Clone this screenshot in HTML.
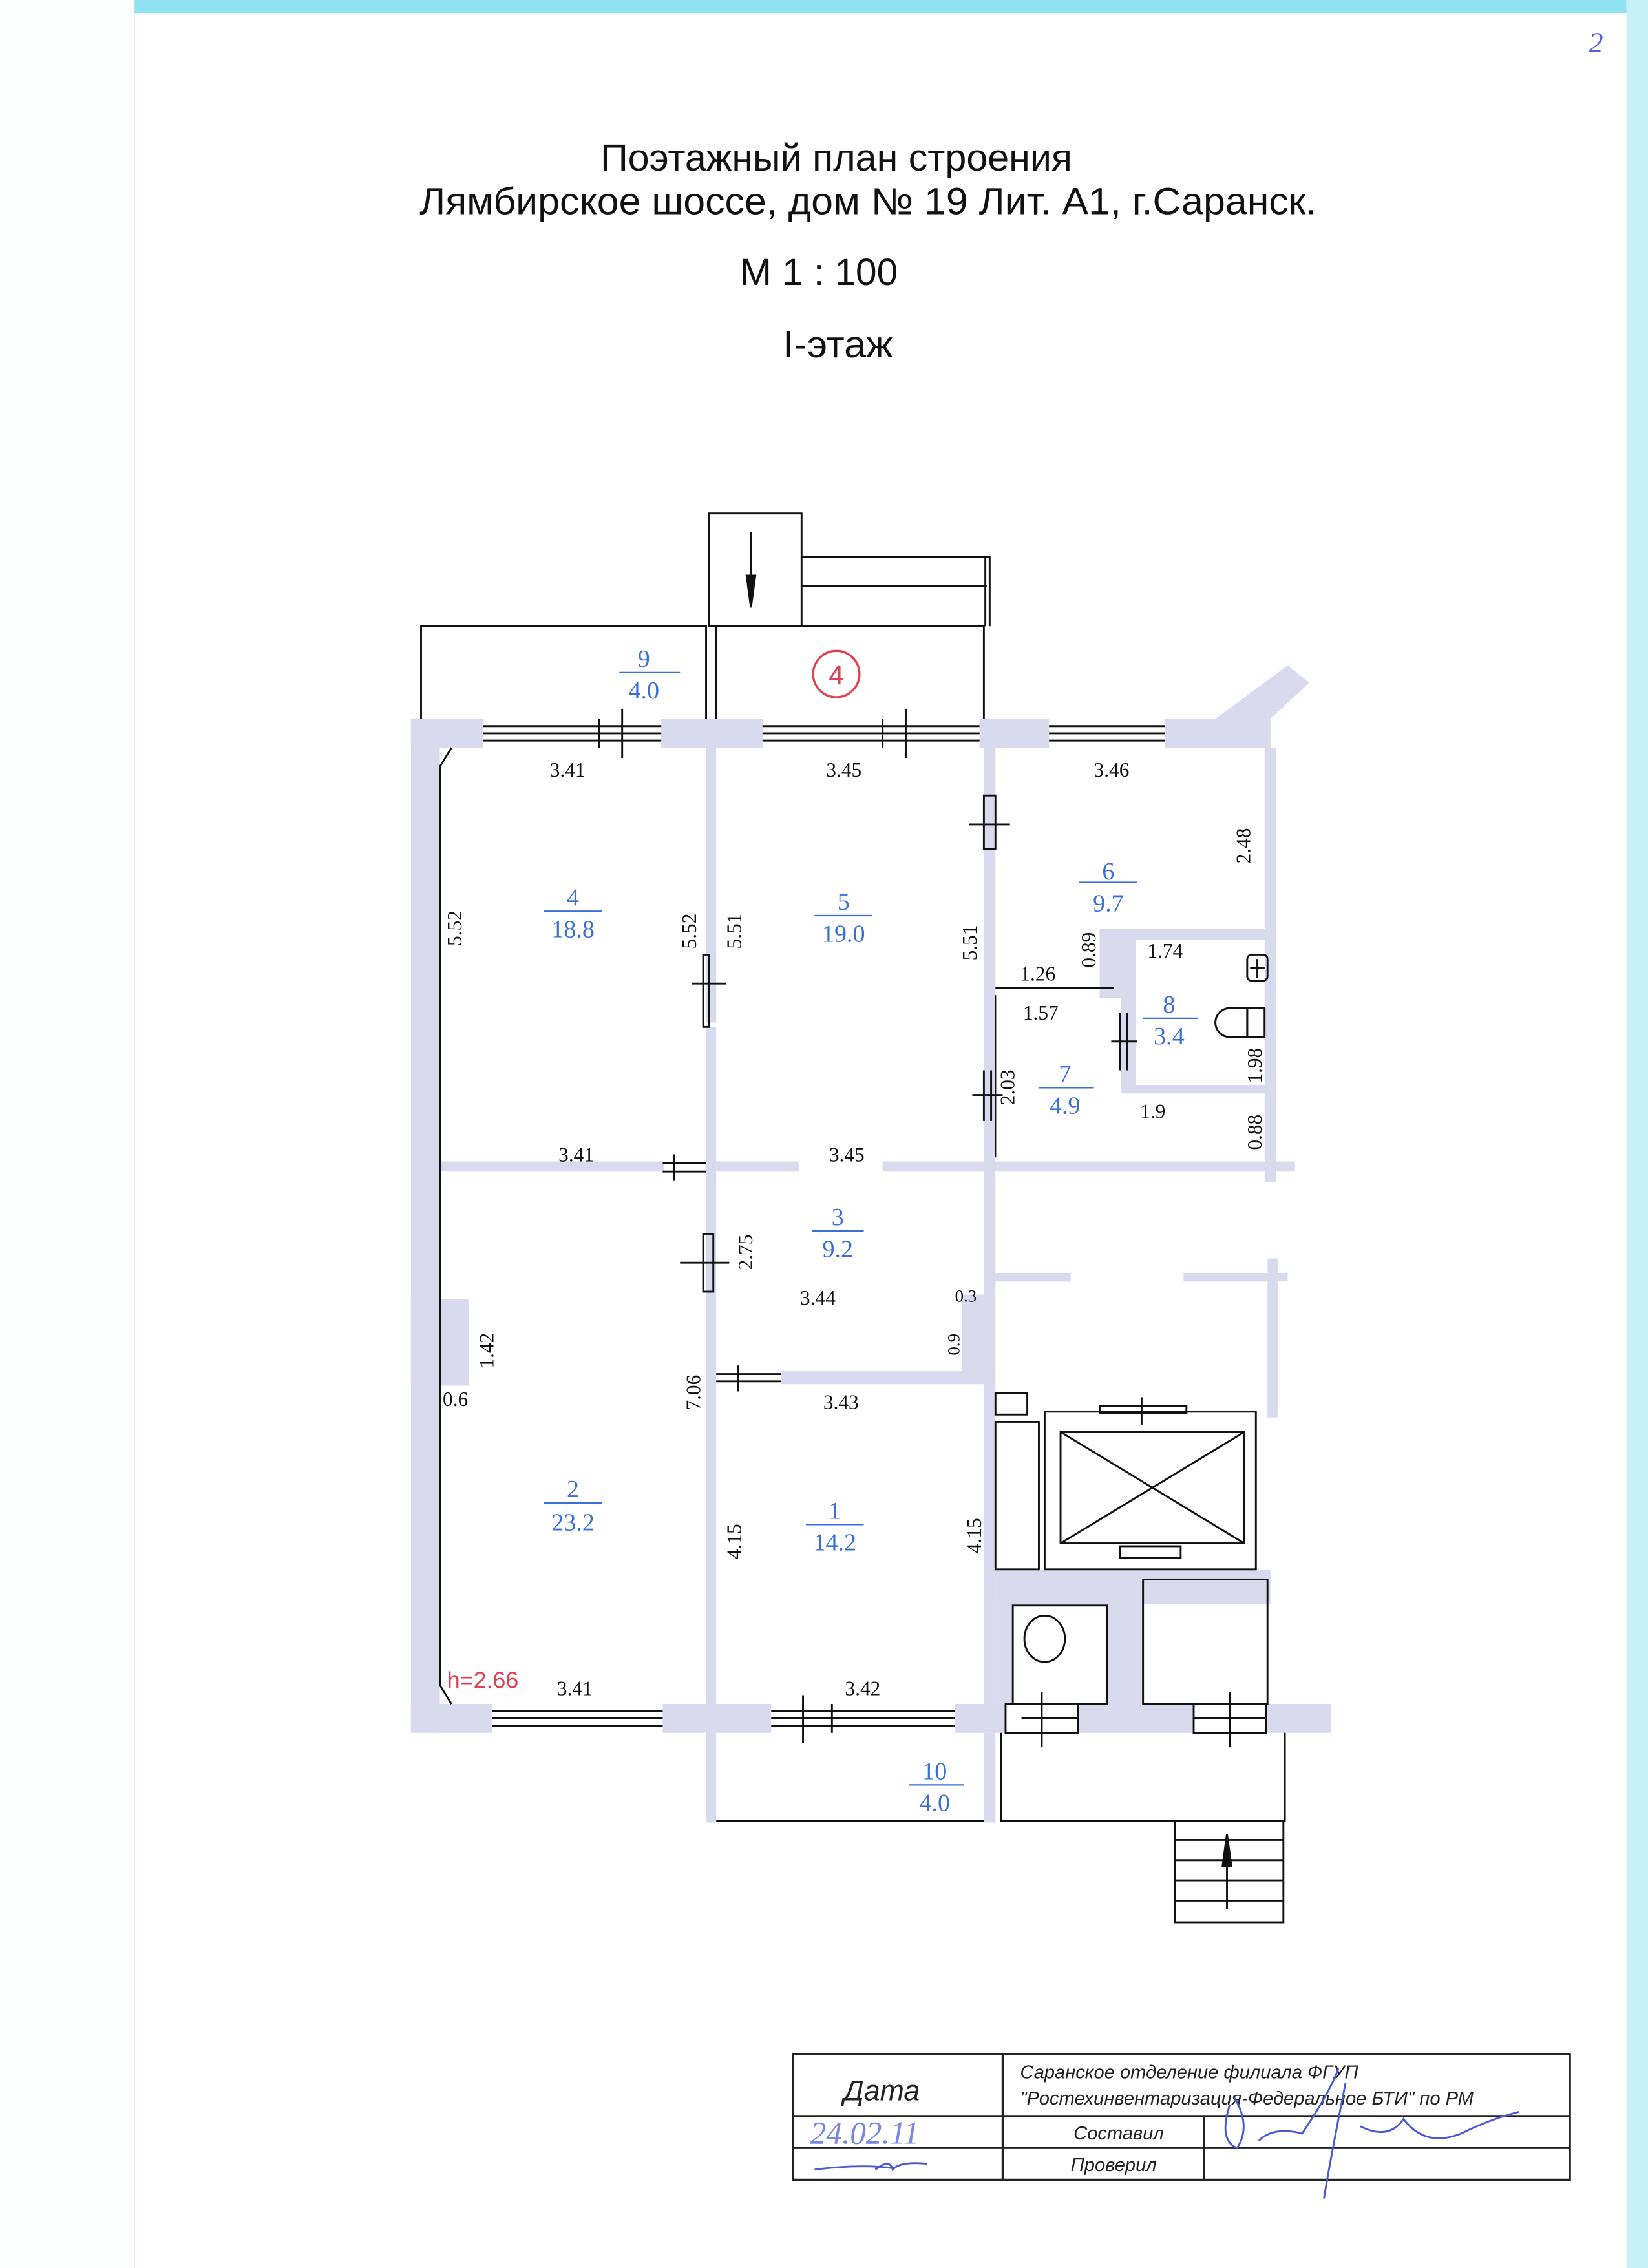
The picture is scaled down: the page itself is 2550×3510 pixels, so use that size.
<!DOCTYPE html>
<html><head><meta charset="utf-8"><style>
html,body{margin:0;padding:0;background:#fff}
svg{display:block}
.d{font-family:"Liberation Serif",serif;font-size:14px;fill:#111}
.r{font-family:"Liberation Serif",serif;font-size:17px;fill:#3a6fd8}
.t{font-family:"Liberation Sans",sans-serif;fill:#111}
.w{fill:#d9daee}
.ln{stroke:#111;stroke-width:1.3;fill:none}
.i{font-family:"Liberation Sans",sans-serif;font-style:italic;fill:#222}
</style></head><body>
<svg width="2550" height="3510" viewBox="0 0 1139 1568" preserveAspectRatio="none" xmlns="http://www.w3.org/2000/svg">
<rect x="0" y="0" width="1139" height="1568" fill="#fff"/>
<rect x="0" y="0" width="1139" height="9" fill="#8fe3f0"/>
<rect x="1124" y="0" width="15" height="1568" fill="#c6f0f6"/>
<rect x="0" y="0" width="93" height="1568" fill="#fcfdfd"/>
<line x1="93" y1="9" x2="93" y2="1568" stroke="#eef" stroke-width="1"/>
<text x="1098" y="36" font-family="Liberation Serif,serif" font-style="italic" font-size="20" fill="#5860d0">2</text>

<text class="t" x="578" y="118" font-size="26" text-anchor="middle" textLength="326" lengthAdjust="spacingAndGlyphs">Поэтажный план строения</text>
<text class="t" x="600" y="148" font-size="26" text-anchor="middle" textLength="620" lengthAdjust="spacingAndGlyphs">Лямбирское шоссе,  дом № 19  Лит. А1, г.Саранск.</text>
<text class="t" x="566" y="197" font-size="26" text-anchor="middle" textLength="109" lengthAdjust="spacingAndGlyphs">М 1 : 100</text>
<text class="t" x="579" y="247" font-size="26" text-anchor="middle" textLength="76" lengthAdjust="spacingAndGlyphs">I-этаж</text>

<g class="w">
<rect x="284" y="497" width="50" height="20"/>
<rect x="457" y="497" width="70" height="20"/>
<rect x="677" y="497" width="48" height="20"/>
<rect x="805" y="497" width="73" height="20"/>
<polygon points="840,497 890,460 905,472 878,497 878,517 840,517"/>
<rect x="284" y="497" width="20" height="701"/>
<rect x="284" y="898" width="40" height="60"/>
<rect x="874" y="517" width="8" height="300"/>
<rect x="284" y="1178" width="56" height="20"/>
<rect x="458" y="1178" width="75" height="20"/>
<rect x="660" y="1178" width="35" height="20"/>
<rect x="745" y="1178" width="80" height="20"/>
<rect x="875" y="1178" width="45" height="20"/>
<rect x="488" y="517" width="7" height="190"/>
<rect x="488" y="710" width="7" height="470"/>
<rect x="680" y="517" width="8" height="661"/>
<rect x="304" y="803" width="155" height="7"/>
<rect x="495" y="803" width="57" height="7"/>
<rect x="610" y="803" width="285" height="7"/>
<rect x="540" y="948" width="148" height="9"/>
<rect x="665" y="895" width="20" height="60"/>
<rect x="775" y="642" width="105" height="8"/>
<rect x="775" y="642" width="10" height="113"/>
<rect x="775" y="750" width="105" height="6"/>
<rect x="760" y="642" width="20" height="48"/>
<rect x="688" y="880" width="52" height="6"/>
<rect x="818" y="880" width="72" height="6"/>
<rect x="876" y="870" width="7" height="110"/>
<rect x="688" y="1085" width="190" height="24"/>
<rect x="765" y="1085" width="25" height="93"/>
<rect x="688" y="1085" width="12" height="93"/>
<rect x="488" y="1198" width="7" height="62"/>
<rect x="680" y="1198" width="8" height="62"/>
</g>

<g class="ln">
<polyline points="291,497 291,433 488,433 488,497"/>
<polyline points="495,497 495,433 680,433 680,497"/>
<rect x="490" y="355" width="64" height="78"/>
<polyline points="554,385 684,385 684,433"/>
<line x1="554" y1="405" x2="682" y2="405"/>
<line x1="681" y1="385" x2="681" y2="433"/>
<line x1="519" y1="368" x2="519" y2="420"/>
<polygon points="516,398 522,398 519,420" fill="#111"/>
<line x1="334" y1="502" x2="457" y2="502"/><line x1="334" y1="507" x2="457" y2="507"/><line x1="334" y1="512" x2="457" y2="512"/>
<line x1="414" y1="497" x2="414" y2="517"/><line x1="430" y1="490" x2="430" y2="524"/>
<line x1="527" y1="502" x2="677" y2="502"/><line x1="527" y1="507" x2="677" y2="507"/><line x1="527" y1="512" x2="677" y2="512"/>
<line x1="610" y1="497" x2="610" y2="517"/><line x1="626" y1="490" x2="626" y2="524"/>
<line x1="725" y1="502" x2="805" y2="502"/><line x1="725" y1="507" x2="805" y2="507"/><line x1="725" y1="512" x2="805" y2="512"/>
<line x1="340" y1="1183" x2="458" y2="1183"/><line x1="340" y1="1188" x2="458" y2="1188"/><line x1="340" y1="1193" x2="458" y2="1193"/>
<line x1="533" y1="1183" x2="660" y2="1183"/><line x1="533" y1="1188" x2="660" y2="1188"/><line x1="533" y1="1193" x2="660" y2="1193"/>
<line x1="575" y1="1178" x2="575" y2="1198"/><line x1="555" y1="1172" x2="555" y2="1205"/>
<polyline points="312,517 304,530 304,1165 312,1178"/>
<rect x="680" y="550" width="8" height="37"/><line x1="670" y1="570" x2="698" y2="570"/>
<rect x="486" y="660" width="4" height="50"/><line x1="478" y1="680" x2="502" y2="680"/>
<line x1="458" y1="804" x2="488" y2="804"/><line x1="458" y1="810" x2="488" y2="810"/><line x1="466" y1="798" x2="466" y2="816"/>
<rect x="486" y="853" width="7" height="40"/><line x1="470" y1="873" x2="504" y2="873"/>
<line x1="495" y1="950" x2="540" y2="950"/><line x1="495" y1="955" x2="540" y2="955"/><line x1="510" y1="944" x2="510" y2="962"/>
<line x1="680" y1="740" x2="680" y2="775"/><line x1="685" y1="740" x2="685" y2="775"/><line x1="672" y1="757" x2="693" y2="757"/>
<line x1="774" y1="700" x2="774" y2="740"/><line x1="779" y1="700" x2="779" y2="740"/><line x1="768" y1="720" x2="786" y2="720"/>
<line x1="688" y1="683" x2="770" y2="683"/>
<line x1="688" y1="688" x2="688" y2="800" stroke-width="1"/>
<rect x="862" y="660" width="14" height="18" rx="3"/><line x1="864" y1="669" x2="874" y2="669"/><line x1="869" y1="663" x2="869" y2="676"/>
<path d="M862 697 h-12 a10 10 0 0 0 0 20 h12 z"/><rect x="862" y="697" width="12" height="20"/>
<rect x="688" y="963" width="22" height="15"/>
<rect x="688" y="983" width="30" height="102"/>
<rect x="722" y="976" width="146" height="109"/>
<rect x="733" y="990" width="127" height="77"/>
<line x1="733" y1="990" x2="860" y2="1067"/><line x1="860" y1="990" x2="733" y2="1067"/>
<rect x="774" y="1069" width="42" height="8"/>
<rect x="760" y="972" width="60" height="5"/><line x1="789" y1="966" x2="789" y2="985"/>
<rect x="700" y="1110" width="65" height="68"/>
<ellipse cx="722" cy="1133" rx="14" ry="16"/>
<rect x="790" y="1092" width="86" height="86"/>
<rect x="695" y="1178" width="50" height="20"/><line x1="720" y1="1170" x2="720" y2="1208"/><line x1="706" y1="1188" x2="745" y2="1188"/>
<rect x="825" y="1178" width="50" height="20"/><line x1="850" y1="1170" x2="850" y2="1208"/><line x1="825" y1="1188" x2="875" y2="1188"/>
<line x1="495" y1="1259" x2="680" y2="1259"/>
<polyline points="692,1198 692,1259 888,1259 888,1198"/>
<rect x="812" y="1259" width="75" height="70"/>
<line x1="812" y1="1272" x2="887" y2="1272"/><line x1="812" y1="1286" x2="887" y2="1286"/><line x1="812" y1="1300" x2="887" y2="1300"/><line x1="812" y1="1314" x2="887" y2="1314"/>
<line x1="848" y1="1268" x2="848" y2="1320"/>
<polygon points="845,1290 851,1290 848,1268" fill="#111"/>
</g>
<circle cx="578" cy="466" r="16" fill="none" stroke="#e04050" stroke-width="1.5"/>
<text x="578" y="473" font-family="Liberation Sans,sans-serif" font-size="19" fill="#e04050" text-anchor="middle">4</text>

<g class="r" text-anchor="middle">
<text x="445" y="461">9</text><text x="445" y="483">4.0</text><line x1="428" y1="465" x2="470" y2="465" stroke="#3a6fd8"/>
<text x="396" y="626">4</text><text x="396" y="648">18.8</text><line x1="376" y1="630" x2="416" y2="630" stroke="#3a6fd8"/>
<text x="583" y="629">5</text><text x="583" y="651">19.0</text><line x1="563" y1="633" x2="603" y2="633" stroke="#3a6fd8"/>
<text x="766" y="608">6</text><text x="766" y="630">9.7</text><line x1="746" y1="610" x2="786" y2="610" stroke="#3a6fd8"/>
<text x="808" y="700">8</text><text x="808" y="722">3.4</text><line x1="790" y1="704" x2="828" y2="704" stroke="#3a6fd8"/>
<text x="736" y="748">7</text><text x="736" y="770">4.9</text><line x1="718" y1="752" x2="756" y2="752" stroke="#3a6fd8"/>
<text x="579" y="847">3</text><text x="579" y="869">9.2</text><line x1="561" y1="851" x2="597" y2="851" stroke="#3a6fd8"/>
<text x="396" y="1035">2</text><text x="396" y="1058">23.2</text><line x1="376" y1="1039" x2="416" y2="1039" stroke="#3a6fd8"/>
<text x="577" y="1050">1</text><text x="577" y="1072">14.2</text><line x1="557" y1="1054" x2="597" y2="1054" stroke="#3a6fd8"/>
<text x="646" y="1230">10</text><text x="646" y="1252">4.0</text><line x1="628" y1="1234" x2="666" y2="1234" stroke="#3a6fd8"/>
</g>
<text x="309" y="1167" font-family="Liberation Sans,sans-serif" font-size="16" fill="#e04050">h=2.66</text>

<g class="d">
<text x="380" y="537">3.41</text><text x="571" y="537">3.45</text><text x="756" y="537">3.46</text>
<text x="386" y="803">3.41</text><text x="573" y="803">3.45</text>
<text x="553" y="902">3.44</text><text x="660" y="900" font-size="12">0.3</text>
<text x="569" y="974">3.43</text><text x="385" y="1172">3.41</text><text x="584" y="1172">3.42</text>
<text x="705" y="678">1.26</text><text x="707" y="705">1.57</text><text x="793" y="662">1.74</text><text x="788" y="773">1.9</text>
<text x="306" y="972">0.6</text>
<text transform="translate(319,654) rotate(-90)">5.52</text>
<text transform="translate(481,656) rotate(-90)">5.52</text>
<text transform="translate(512,656) rotate(-90)">5.51</text>
<text transform="translate(675,664) rotate(-90)">5.51</text>
<text transform="translate(864,597) rotate(-90)">2.48</text>
<text transform="translate(757,669) rotate(-90)">0.89</text>
<text transform="translate(701,764) rotate(-90)">2.03</text>
<text transform="translate(872,749) rotate(-90)">1.98</text>
<text transform="translate(872,795) rotate(-90)">0.88</text>
<text transform="translate(520,878) rotate(-90)">2.75</text>
<text transform="translate(663,937) rotate(-90)" font-size="12">0.9</text>
<text transform="translate(341,946) rotate(-90)">1.42</text>
<text transform="translate(484,975) rotate(-90)">7.06</text>
<text transform="translate(512,1078) rotate(-90)">4.15</text>
<text transform="translate(678,1074) rotate(-90)">4.15</text>
</g>

<g stroke="#222" stroke-width="1.5" fill="none">
<rect x="548" y="1420" width="537" height="87"/>
<line x1="548" y1="1463" x2="1085" y2="1463"/>
<line x1="548" y1="1485" x2="1085" y2="1485"/>
<line x1="693" y1="1420" x2="693" y2="1507"/>
<line x1="832" y1="1463" x2="832" y2="1507"/>
</g>
<text class="i" x="583" y="1452" font-size="20">Дата</text>
<text class="i" x="705" y="1437" font-size="13">Саранское отделение филиала ФГУП</text>
<text class="i" x="705" y="1455" font-size="13">"Ростехинвентаризация-Федеральное БТИ" по РМ</text>
<text class="i" x="742" y="1479" font-size="13">Составил</text>
<text class="i" x="740" y="1501" font-size="13">Проверил</text>
<text x="560" y="1482" font-family="Liberation Serif,serif" font-style="italic" font-size="22" fill="#5a6ad8" opacity="0.8">24.02.11</text>
<path d="M563 1500 q30 -4 55 -1 M605 1500 q10 -8 12 0 q5 -6 24 -4" stroke="#4a5ad0" fill="none" stroke-width="1.3"/>
<path d="M850 1455 q-8 25 5 30 q10 -15 -2 -35 M870 1480 q10 -10 30 -5 q20 -30 25 -45 M930 1440 q-10 50 -15 80 M940 1470 q20 10 30 -5 q15 20 40 10 q20 -10 40 -15" stroke="#4a5ad0" fill="none" stroke-width="1.3"/>
</svg>
</body></html>
